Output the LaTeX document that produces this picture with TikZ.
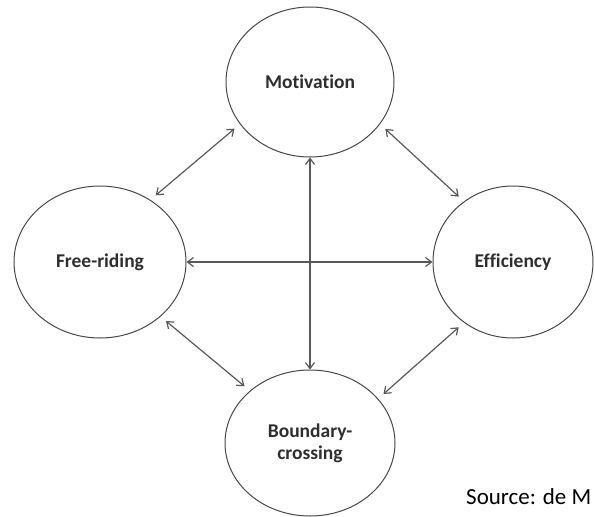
\documentclass[tikz,border=0pt]{standalone}
\usepackage{fontspec}
\setmainfont{Carlito}[Ligatures=NoCommon]
\usetikzlibrary{shapes.geometric,arrows.meta}

\tikzset{
  factor/.style={ellipse, draw=black!72, line width=1pt, inner sep=0pt,
    font=\fontsize{19.5}{22}\selectfont\bfseries, text=black!82, align=center},
  link/.style={draw=black!65, line width=1.2pt,
    {Straight Barb[length=6pt,width=9pt]}-{Straight Barb[length=6pt,width=9pt]}},
  note/.style={font=\fontsize{23}{26}\selectfont, text=black, inner sep=0pt}
}

\begin{document}
\begin{tikzpicture}[x=1pt,y=-1pt]
  \useasboundingbox (0,0) rectangle (595,517);

  % the four factors
  \node[factor, minimum width=168pt, minimum height=150pt] (mot) at (310,82) {Motivation};
  \node[factor, minimum width=172pt, minimum height=152pt] (free) at (100,262) {Free-riding};
  \node[factor, minimum width=160pt, minimum height=152pt] (eff) at (513,262) {Efficiency};
  \node[factor, minimum width=170pt, minimum height=146pt] (bnd) at (310,443) {Boundary-\\crossing};

  % two-way links
  \draw[link] (mot.south) -- (bnd.north);
  \draw[link] (free.east) -- (eff.west);
  \draw[link, shorten <=7pt, shorten >=7pt] (mot.211) -- (free.51);
  \draw[link, shorten <=7pt, shorten >=7pt] (mot.329) -- (eff.129);
  \draw[link, shorten <=7pt, shorten >=7pt] (free.318) -- (bnd.139);
  \draw[link, shorten <=7pt, shorten >=7pt] (eff.231) -- (bnd.33);

  % source line
  \node[note, anchor=base west] (src) at (466,504) {Source: de M};
\end{tikzpicture}
\end{document}
